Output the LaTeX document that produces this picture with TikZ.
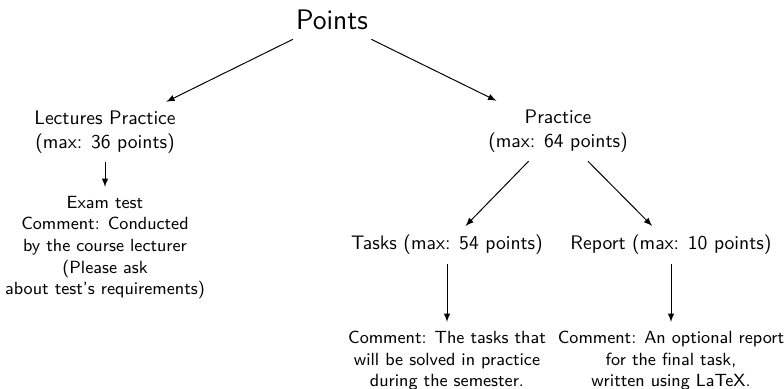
\documentclass[tikz,border=0pt]{standalone}
\usetikzlibrary{arrows}
\begin{document}
\begin{tikzpicture}[x=0.5102pt,y=-0.5102pt,
  every node/.style={font=\sffamily, align=center, inner sep=4.5pt},
  lvl/.style={font=\sffamily\normalsize},
  cmt/.style={font=\sffamily\small, anchor=north},
  top/.style={font=\sffamily\Large, inner sep=4.6pt},
  conn/.style={-latex, line width=0.5pt}]
\useasboundingbox (0,0) rectangle (784,388);
\node[top] (points) at (332,20) {Points};
\node[lvl] (lect) at (105,132) {Lectures Practice\\(max: 36 points)};
\node[lvl] (prac) at (558,131) {Practice\\(max: 64 points)};
\node[lvl] (tasks) at (447,245) {Tasks (max: 54 points)};
\node[lvl] (report) at (671,245) {Report (max: 10 points)};
\node[cmt] (exam) at (105,187) {Exam test\\Comment: Conducted\\by the course lecturer\\(Please ask\\about test's requirements)};
\node[cmt] (taskc) at (447,322) {Comment: The tasks that\\will be solved in practice\\during the semester.};
\node[cmt] (repc) at (671,322) {Comment: An optional report\\for the final task,\\written using LaTeX.};
\draw[conn] (points) -- (lect);
\draw[conn] (points) -- (prac);
\draw[conn] (lect) -- (exam);
\draw[conn] (prac) -- (tasks);
\draw[conn] (prac) -- (report);
\draw[conn] (tasks) -- (taskc);
\draw[conn] (report) -- (repc);
\end{tikzpicture}
\end{document}
